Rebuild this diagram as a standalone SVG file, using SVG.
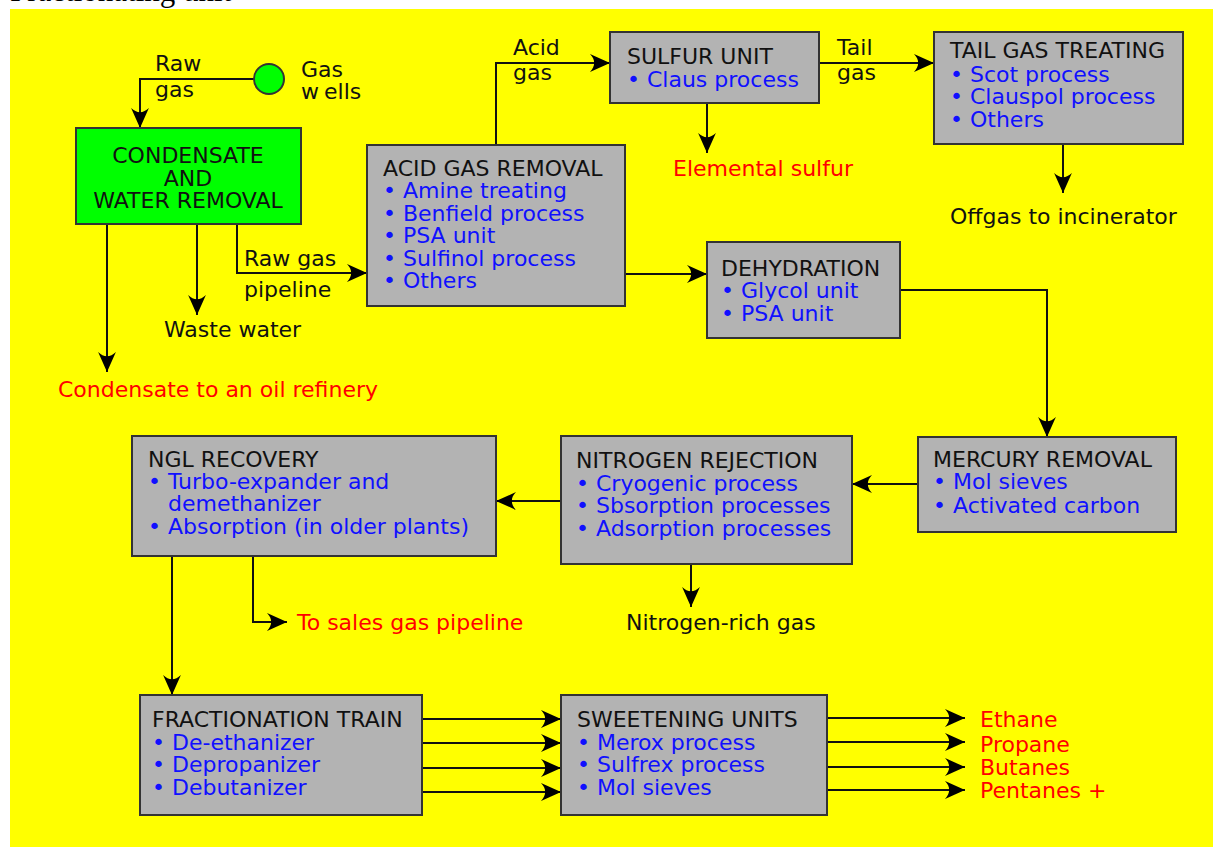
<svg xmlns="http://www.w3.org/2000/svg" width="1216" height="847" viewBox="0 0 1216 847">
<defs>
<marker id="arr" markerUnits="userSpaceOnUse" markerWidth="24" markerHeight="20" viewBox="-19 -9 21 18" refX="0" refY="0" orient="auto">
<path d="M0,0 L-18,-8 C-13,-3 -13,3 -18,8 Z" fill="#000"/>
</marker>
<style>
.t{font-family:"DejaVu Sans",sans-serif;font-size:22px;}
.k{fill:#111;}
.b{fill:#1010ff;}
.r{fill:#ff0000;}
.box{fill:#b3b3b3;stroke:#333;stroke-width:2;}
.c{fill:none;stroke:#111;stroke-width:2;marker-end:url(#arr);}
</style>
</defs>
<rect x="0" y="0" width="1216" height="847" fill="#fff"/>
<text x="10" y="1" font-family="Liberation Serif, serif" font-size="31" fill="#000">Fractionating unit</text>
<rect x="10" y="9" width="1203" height="838" fill="#ffff00"/>

<g id="connectors">
<path class="c" d="M254,79 H140 V128"/>
<path class="c" d="M107,224 V372"/>
<path class="c" d="M197,224 V315"/>
<path class="c" d="M237,224 V273 H367"/>
<path class="c" d="M496,145 V63 H610"/>
<path class="c" d="M707,103 V153"/>
<path class="c" d="M819,63 H934"/>
<path class="c" d="M1063,144 V193"/>
<path class="c" d="M625,274 H707"/>
<path class="c" d="M900,290 H1047 V437"/>
<path class="c" d="M918,484 H852"/>
<path class="c" d="M561,501 H496"/>
<path class="c" d="M691,564 V607"/>
<path class="c" d="M253,556 V622 H287"/>
<path class="c" d="M172,556 V695"/>
<path class="c" d="M422,719 H561"/>
<path class="c" d="M422,743 H561"/>
<path class="c" d="M422,768 H561"/>
<path class="c" d="M422,792 H561"/>
<path class="c" d="M827,718 H965"/>
<path class="c" d="M827,742 H965"/>
<path class="c" d="M827,767 H965"/>
<path class="c" d="M827,790 H965"/>
</g>

<g id="labels" class="t">
<text class="k" x="155" y="71">Raw</text>
<text class="k" x="155" y="97">gas</text>
<text class="k" x="513" y="55">Acid</text>
<text class="k" x="513" y="80">gas</text>
<text class="k" x="837" y="55">Tail</text>
<text class="k" x="837" y="80">gas</text>
<text class="k" x="244" y="266">Raw gas</text>
<text class="k" x="244" y="297">pipeline</text>
</g>

<g id="gaswells" class="t">
<circle cx="269" cy="79" r="15" fill="#00ff00" stroke="#333" stroke-width="2"/>
<text class="k" x="301" y="77">Gas</text>
<text class="k" x="301" y="99"><tspan>w</tspan><tspan dx="5">ells</tspan></text>
</g>

<g id="condensate" class="t">
<rect x="76" y="128" width="225" height="96" fill="#00ff00" stroke="#333" stroke-width="2"/>
<text class="k" text-anchor="middle" x="188" y="163">CONDENSATE</text>
<text class="k" text-anchor="middle" x="188" y="186">AND</text>
<text class="k" text-anchor="middle" x="188" y="208">WATER REMOVAL</text>
</g>

<g id="condensate-out" class="t">
<text class="r" x="58" y="397">Condensate to an oil refinery</text>
</g>
<g id="wastewater" class="t">
<text class="k" x="164" y="337">Waste water</text>
</g>

<g id="acidgas" class="t">
<rect class="box" x="367" y="145" width="258" height="161"/>
<text class="k" x="383" y="176">ACID GAS REMOVAL</text>
<text class="b" x="383" y="198">• Amine treating</text>
<text class="b" x="383" y="221">• Benfield process</text>
<text class="b" x="383" y="243">• PSA unit</text>
<text class="b" x="383" y="266">• Sulfinol process</text>
<text class="b" x="383" y="288">• Others</text>
</g>

<g id="sulfur" class="t">
<rect class="box" x="610" y="32" width="209" height="71"/>
<text class="k" x="627" y="64">SULFUR UNIT</text>
<text class="b" x="627" y="87">• Claus process</text>
</g>
<g id="elemental" class="t">
<text class="r" x="673" y="176">Elemental sulfur</text>
</g>

<g id="tailgas" class="t">
<rect class="box" x="934" y="32" width="249" height="112"/>
<text class="k" x="950" y="58">TAIL GAS TREATING</text>
<text class="b" x="950" y="82">• Scot process</text>
<text class="b" x="950" y="104">• Clauspol process</text>
<text class="b" x="950" y="127">• Others</text>
</g>
<g id="offgas" class="t">
<text class="k" x="950" y="224">Offgas to incinerator</text>
</g>

<g id="dehydration" class="t">
<rect class="box" x="707" y="242" width="193" height="96"/>
<text class="k" x="721" y="276">DEHYDRATION</text>
<text class="b" x="721" y="298">• Glycol unit</text>
<text class="b" x="721" y="321">• PSA unit</text>
</g>

<g id="mercury" class="t">
<rect class="box" x="918" y="437" width="258" height="95"/>
<text class="k" x="933" y="467">MERCURY REMOVAL</text>
<text class="b" x="933" y="489">• Mol sieves</text>
<text class="b" x="933" y="513">• Activated carbon</text>
</g>

<g id="nitrogen" class="t">
<rect class="box" x="561" y="436" width="291" height="128"/>
<text class="k" x="576" y="468">NITROGEN REJECTION</text>
<text class="b" x="576" y="491">• Cryogenic process</text>
<text class="b" x="576" y="513">• Sbsorption processes</text>
<text class="b" x="576" y="536">• Adsorption processes</text>
</g>
<g id="nitrogenrich" class="t">
<text class="k" x="626" y="630">Nitrogen-rich gas</text>
</g>

<g id="ngl" class="t">
<rect class="box" x="132" y="436" width="364" height="120"/>
<text class="k" x="148" y="467">NGL RECOVERY</text>
<text class="b" x="148" y="489">• Turbo-expander and</text>
<text class="b" x="168" y="511">demethanizer</text>
<text class="b" x="148" y="534">• Absorption (in older plants)</text>
</g>
<g id="sales" class="t">
<text class="r" x="297" y="630">To sales gas pipeline</text>
</g>

<g id="fractionation" class="t">
<rect class="box" x="140" y="695" width="282" height="120"/>
<text class="k" x="152" y="727">FRACTIONATION TRAIN</text>
<text class="b" x="152" y="750">• De-ethanizer</text>
<text class="b" x="152" y="772">• Depropanizer</text>
<text class="b" x="152" y="795">• Debutanizer</text>
</g>

<g id="sweetening" class="t">
<rect class="box" x="561" y="695" width="266" height="120"/>
<text class="k" x="577" y="727">SWEETENING UNITS</text>
<text class="b" x="577" y="750">• Merox process</text>
<text class="b" x="577" y="772">• Sulfrex process</text>
<text class="b" x="577" y="795">• Mol sieves</text>
</g>

<g id="products" class="t">
<text class="r" x="980" y="727">Ethane</text>
<text class="r" x="980" y="752">Propane</text>
<text class="r" x="980" y="775">Butanes</text>
<text class="r" x="980" y="798">Pentanes +</text>
</g>
</svg>
